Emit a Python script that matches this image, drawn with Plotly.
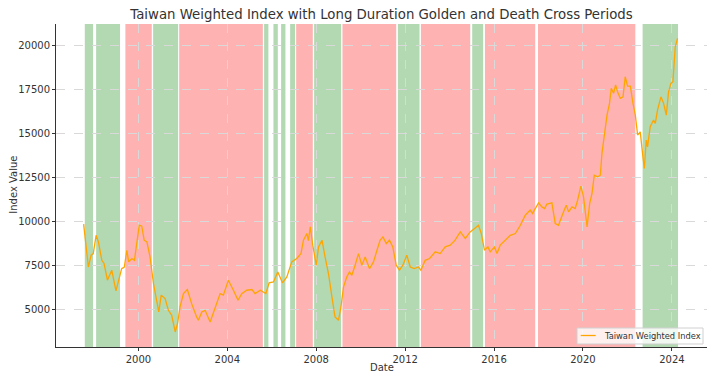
import plotly.graph_objects as go

# ---- data ----
dates = [
    "1997-07-15", "1997-10-01", "1997-11-15", "1997-12-20", "1998-02-05", "1998-03-15",
    "1998-05-10", "1998-06-15", "1998-08-10", "1998-10-20", "1998-12-28", "1999-02-20",
    "1999-04-01", "1999-05-15", "1999-06-25", "1999-07-25", "1999-09-15", "1999-10-28",
    "1999-12-05", "2000-01-15", "2000-02-25", "2000-04-05", "2000-05-20", "2000-07-10",
    "2000-09-05", "2000-10-20", "2000-12-01", "2001-01-10", "2001-03-15", "2001-05-08",
    "2001-07-01", "2001-08-28", "2001-10-05", "2001-11-15", "2002-01-10", "2002-03-15",
    "2002-05-25", "2002-08-15", "2002-09-12", "2002-11-08", "2003-01-01", "2003-03-25",
    "2003-06-15", "2003-09-05", "2003-10-28", "2004-01-18", "2004-04-10", "2004-06-25",
    "2004-08-25", "2004-11-15", "2005-02-08", "2005-04-01", "2005-06-25", "2005-09-25",
    "2005-11-18", "2006-01-28", "2006-04-10", "2006-06-25", "2006-09-05", "2006-11-25",
    "2007-02-15", "2007-04-25", "2007-06-05", "2007-07-30", "2007-08-25", "2007-09-25",
    "2007-11-05", "2008-01-01", "2008-02-08", "2008-04-05", "2008-05-25", "2008-07-20",
    "2008-09-15", "2008-11-05", "2009-01-01", "2009-02-10", "2009-03-25", "2009-05-18",
    "2009-06-30", "2009-08-08", "2009-10-01", "2009-11-25", "2010-01-20", "2010-03-15",
    "2010-05-25", "2010-07-30", "2010-09-25", "2010-11-15", "2011-01-01", "2011-02-25",
    "2011-04-18", "2011-06-12", "2011-08-07", "2011-09-30", "2011-11-25", "2012-01-28",
    "2012-03-25", "2012-05-28", "2012-08-07", "2012-09-16", "2012-11-25", "2013-02-05",
    "2013-05-10", "2013-07-30", "2013-10-20", "2014-01-10", "2014-04-01", "2014-06-25",
    "2014-09-15", "2014-12-05", "2015-02-15", "2015-04-20", "2015-06-05", "2015-07-28",
    "2015-09-22", "2015-10-30", "2016-01-08", "2016-02-18", "2016-04-12", "2016-07-01",
    "2016-09-23", "2016-12-15", "2017-03-08", "2017-05-28", "2017-08-17", "2017-09-25",
    "2017-11-07", "2018-01-01", "2018-02-25", "2018-04-10", "2018-05-18", "2018-08-08",
    "2018-10-02", "2018-11-25", "2019-02-05", "2019-04-01", "2019-05-10", "2019-07-05",
    "2019-08-25", "2019-10-05", "2019-11-28", "2020-01-10", "2020-03-08", "2020-04-20",
    "2020-05-28", "2020-07-05", "2020-08-28", "2020-10-12", "2020-11-08", "2020-12-15",
    "2021-01-30", "2021-03-12", "2021-04-10", "2021-05-18", "2021-06-20", "2021-07-22",
    "2021-09-05", "2021-10-20", "2021-11-25", "2022-01-03", "2022-02-17", "2022-04-02",
    "2022-05-10", "2022-06-17", "2022-07-30", "2022-09-12", "2022-10-05", "2022-11-06",
    "2022-11-27", "2023-01-10", "2023-03-05", "2023-04-03", "2023-05-10", "2023-07-05",
    "2023-08-18", "2023-10-01", "2023-11-08", "2023-12-16", "2024-01-18", "2024-02-25",
    "2024-04-03",
]
index_values = [
    9830, 7400, 8070, 8160, 9200, 8820,
    7780, 7600, 6650, 7220, 6040, 6740,
    7310, 7400, 8350, 7690, 7880, 7780,
    8640, 9770, 9720, 8920, 8820, 7970,
    6460, 5510, 4850, 5800, 5610, 4940,
    4660, 3710, 4190, 5130, 5890, 6120,
    5320, 4560, 4380, 4850, 4940, 4280,
    5130, 5890, 5800, 6650, 6080, 5510,
    5890, 6080, 6120, 5890, 6080, 5890,
    6500, 6550, 7120, 6500, 6840, 7690,
    7880, 8160, 8920, 9300, 8900, 9680,
    8640, 7500, 8540, 8920, 7970, 7030,
    5700, 4560, 4380, 5130, 6270, 6840,
    7120, 6930, 7500, 8160, 7500, 7970,
    7310, 7690, 8350, 8920, 9110, 8730,
    8920, 8540, 7500, 7220, 7500, 8070,
    7400, 7310, 7400, 7220, 7780, 7880,
    8260, 8160, 8540, 8640, 8920, 9390,
    9020, 9390, 9590, 9770, 9300, 8350,
    8540, 8260, 8540, 8160, 8640, 8920,
    9200, 9300, 9770, 10340, 10630, 10440,
    10720, 11040, 10810, 10720, 10970, 11040,
    9870, 9770, 10440, 10910, 10530, 10810,
    10720, 11190, 11990, 11380, 9680, 11000,
    11570, 12610, 12520, 12610, 13850, 14890,
    16020, 16690, 17540, 17260, 17730, 17350,
    16970, 17060, 18200, 17670, 17670, 16690,
    16020, 14890, 15070, 13650, 12990, 14600,
    14220, 15360, 15740, 15550, 16310, 17060,
    16690, 16020, 17350, 17820, 17920, 19900,
    20380,
]

golden_starts = ["1997-08-03", "1998-02-05", "2000-08-30", "2005-08-28", "2006-01-28",
                 "2006-06-03", "2006-10-29", "2007-11-27", "2011-09-04", "2015-01-07",
                 "2022-09-07"]
golden_ends = ["1997-12-17", "1999-03-05", "2001-10-15", "2005-11-06", "2006-04-10",
               "2006-08-13", "2007-01-19", "2009-02-14", "2012-08-24", "2015-07-06",
               "2024-04-11"]
death_starts = ["1999-06-01", "2001-11-01", "2007-02-05", "2009-03-07", "2012-09-16",
                "2015-08-04", "2017-12-23"]
death_ends = ["2000-08-08", "2005-08-07", "2007-11-06", "2011-08-07", "2014-12-05",
              "2017-11-07", "2022-05-10"]

tick_years = ["2000", "2004", "2008", "2012", "2016", "2020", "2024"]
y_ticks = [5000, 7500, 10000, 12500, 15000, 17500, 20000]
series_name = "Taiwan Weighted Index"
line_color = "#FFA500"

fig = go.Figure()

shapes = []
for s, e in zip(golden_starts, golden_ends):
    shapes.append(dict(type="rect", xref="x", yref="paper", x0=s, x1=e, y0=0, y1=1,
                       fillcolor="rgba(0,128,0,0.3)", line=dict(width=0), layer="below"))
for s, e in zip(death_starts, death_ends):
    shapes.append(dict(type="rect", xref="x", yref="paper", x0=s, x1=e, y0=0, y1=1,
                       fillcolor="rgba(255,0,0,0.3)", line=dict(width=0), layer="below"))

# legend box (drawn manually to match the compact matplotlib legend)
shapes.append(dict(type="rect", xref="paper", yref="paper", x0=0.8003, x1=0.9939,
                   y0=0.0093, y1=0.0588, fillcolor="rgba(255,255,255,0.8)",
                   line=dict(color="#d0d0d0", width=1), layer="above"))
shapes.append(dict(type="line", xref="paper", yref="paper", x0=0.806, x1=0.829,
                   y0=0.0356, y1=0.0356, line=dict(color=line_color, width=1.3),
                   layer="above"))

fig.add_trace(go.Scatter(x=dates, y=index_values, mode="lines",
                         name=series_name, showlegend=False,
                         line=dict(color=line_color, width=1.3)))

font_family = "DejaVu Sans, sans-serif"
text_color = "#333333"
# The page body has an 8px default margin, so the figure is 8px smaller and
# the left/top margins are reduced by 8px to keep the plot area in place.
fig.update_layout(
    width=707, height=365,
    margin=dict(l=48, r=8, t=16, b=26),
    paper_bgcolor="white", plot_bgcolor="white",
    font=dict(family=font_family, size=10, color=text_color),
    title=dict(text="Taiwan Weighted Index with Long Duration Golden and Death Cross Periods",
               xref="paper", x=0.5, xanchor="center",
               yref="container", y=1 - 6.5 / 365, yanchor="middle",
               font=dict(size=13.3, color=text_color)),
    shapes=shapes,
    annotations=[
        dict(text=series_name, xref="paper", yref="paper", x=0.8387, y=0.0356,
             xanchor="left", yanchor="middle", showarrow=False,
             font=dict(size=8.3, color=text_color)),
        dict(text="Date", xref="paper", yref="paper", x=0.5, y=-0.0635,
             xanchor="center", yanchor="middle", showarrow=False,
             font=dict(size=10, color=text_color)),
        dict(text="Index Value", xref="paper", yref="paper", x=-0.0650, y=0.5016,
             xanchor="center", yanchor="middle", showarrow=False, textangle=-90,
             borderpad=0, font=dict(size=10, color=text_color)),
    ],
)
fig.update_xaxes(
    range=["1996-04-17", "2025-07-31"],
    tickvals=[y + "-01-01" for y in tick_years], ticktext=tick_years,
    showgrid=True, gridcolor="#d9d9d9", griddash="dash", gridwidth=0.8,
    showline=True, linecolor=text_color, linewidth=1,
    ticks="outside", ticklen=3, tickcolor=text_color,
    tickfont=dict(size=10, color=text_color),
    zeroline=False, automargin=False,
)
fig.update_yaxes(
    range=[2858, 21193],
    tickvals=y_ticks, ticktext=[str(v) for v in y_ticks],
    showgrid=True, gridcolor="#d9d9d9", griddash="dash", gridwidth=0.8,
    showline=True, linecolor=text_color, linewidth=1,
    ticks="outside", ticklen=3, tickcolor=text_color,
    tickfont=dict(size=10, color=text_color),
    zeroline=False, automargin=False,
)

fig.write_html("out.html")
